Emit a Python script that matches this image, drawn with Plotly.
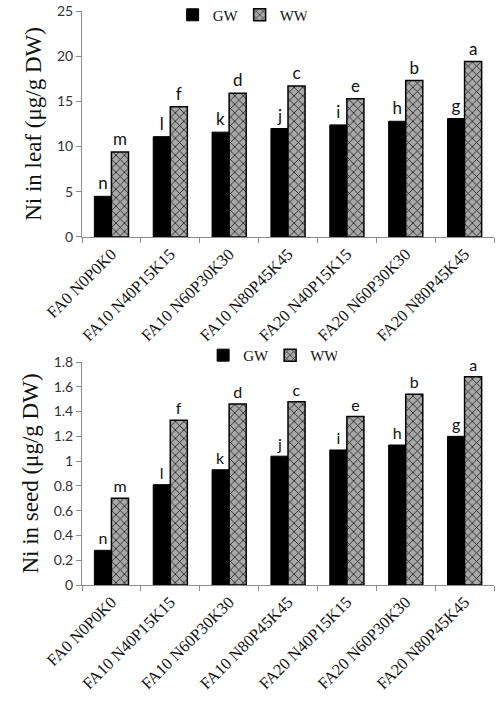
import plotly.graph_objects as go

# treatments shared by both panels
categories = [
    "FA0 N0P0K0",
    "FA10 N40P15K15",
    "FA10 N60P30K30",
    "FA10 N80P45K45",
    "FA20 N40P15K15",
    "FA20 N60P30K30",
    "FA20 N80P45K45",
]

# Ni in leaf (µg/g DW)
leaf_gw = [4.5, 11.1, 11.6, 12.0, 12.4, 12.8, 13.1]
leaf_ww = [9.4, 14.4, 15.9, 16.7, 15.3, 17.3, 19.4]
leaf_gw_letters = ["n", "l", "k", "j", "i", "h", "g"]
leaf_ww_letters = ["m", "f", "d", "c", "e", "b", "a"]

# Ni in seed (µg/g DW)
seed_gw = [0.28, 0.81, 0.93, 1.04, 1.09, 1.13, 1.20]
seed_ww = [0.70, 1.33, 1.46, 1.48, 1.36, 1.54, 1.68]
seed_gw_letters = ["n", "l", "k", "j", "i", "h", "g"]
seed_ww_letters = ["m", "f", "d", "c", "e", "b", "a"]

SANS = "Lato"
SERIF = "Liberation Serif"
AXIS_GREY = "#8c8c8c"
HATCH_BG = "#a8a8a8"

fig = go.Figure()


def add_pair(gw, ww, gw_txt, ww_txt, xaxis, yaxis, legend, text_size):
    fig.add_trace(
        go.Bar(
            x=categories,
            y=gw,
            name="GW",
            text=gw_txt,
            textposition="outside",
            textfont=dict(family=SANS, size=text_size, color="#111111"),
            cliponaxis=False,
            marker=dict(color="black", line=dict(color="black", width=1)),
            xaxis=xaxis,
            yaxis=yaxis,
            legend=legend,
        )
    )
    fig.add_trace(
        go.Bar(
            x=categories,
            y=ww,
            name="WW",
            text=ww_txt,
            textposition="outside",
            textfont=dict(family=SANS, size=text_size, color="#111111"),
            cliponaxis=False,
            marker=dict(
                color=HATCH_BG,
                line=dict(color="black", width=1.5),
                pattern=dict(
                    shape="x",
                    fgcolor="#1a1a1a",
                    bgcolor=HATCH_BG,
                    size=6,
                    solidity=0.25,
                    fillmode="replace",
                ),
            ),
            xaxis=xaxis,
            yaxis=yaxis,
            legend=legend,
        )
    )


add_pair(leaf_gw, leaf_ww, leaf_gw_letters, leaf_ww_letters, "x", "y", "legend", 17)
add_pair(seed_gw, seed_ww, seed_gw_letters, seed_ww_letters, "x2", "y2", "legend2", 16)

xaxis_style = dict(
    type="category",
    showline=True,
    linecolor=AXIS_GREY,
    linewidth=1,
    ticks="outside",
    tickson="boundaries",
    ticklen=5,
    tickcolor=AXIS_GREY,
    tickangle=-45,
    tickfont=dict(family=SERIF, size=16.5, color="#111111"),
    showgrid=False,
    zeroline=False,
)
yaxis_style = dict(
    showline=True,
    linecolor=AXIS_GREY,
    linewidth=1,
    ticks="outside",
    ticklen=5,
    tickcolor=AXIS_GREY,
    ticklabeloverflow="allow",
    tickfont=dict(family=SANS, size=14, color="#333333"),
    showgrid=False,
    zeroline=False,
)

legend_style = dict(
    orientation="h",
    xanchor="left",
    yanchor="middle",
    font=dict(family=SERIF, size=15, color="#111111"),
    bgcolor="rgba(0,0,0,0)",
    itemwidth=30,
    entrywidth=22,
    tracegroupgap=0,
)

fig.update_layout(
    width=500,
    height=711,
    barmode="group",
    bargap=0.42,
    bargroupgap=0,
    paper_bgcolor="white",
    plot_bgcolor="white",
    margin=dict(l=82, r=6, t=11, b=126, autoexpand=False),
    xaxis=dict(xaxis_style, domain=[0, 1], anchor="y"),
    yaxis=dict(
        yaxis_style,
        domain=[0.6063, 1.0],
        anchor="x",
        range=[0, 25],
        dtick=5,
        title=dict(
            text="Ni in leaf (μg/g DW)",
            font=dict(family=SERIF, size=23, color="#111111"),
            standoff=8,
        ),
    ),
    xaxis2=dict(xaxis_style, domain=[0, 1], anchor="y2"),
    yaxis2=dict(
        yaxis_style,
        domain=[0, 0.3885],
        anchor="x2",
        range=[0, 1.8],
        dtick=0.2,
        title=dict(
            text="Ni in seed (μg/g DW)",
            font=dict(family=SERIF, size=23, color="#111111"),
            standoff=8,
        ),
    ),
    legend=dict(legend_style, x=0.22, y=0.993),
    legend2=dict(legend_style, x=0.294, y=0.40),
)

# drop the default 8px body margin so the figure fills the window exactly
fig.write_html(
    "out.html",
    config={"displayModeBar": False},
    post_script="document.body.style.margin = '0';",
)
